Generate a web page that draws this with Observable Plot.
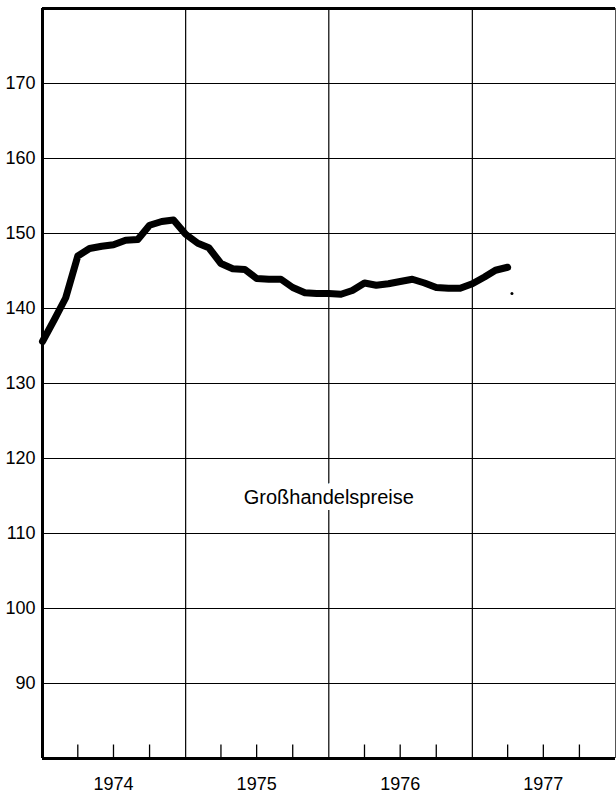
<!DOCTYPE html>
<html>
<head>
<meta charset="utf-8">
<script src="https://cdn.jsdelivr.net/npm/d3@7"></script>
<script src="https://cdn.jsdelivr.net/npm/@observablehq/plot@0.6"></script>
<style>
  html, body { margin: 0; padding: 0; background: #fff; }
  svg { display: block; }
</style>
</head>
<body>
<div id="chart"></div>
<script>
// Monthly values (Großhandelspreise index), Jan 1974 – Apr 1977
const months = [
  "1974-01","1974-02","1974-03","1974-04","1974-05","1974-06","1974-07","1974-08","1974-09","1974-10","1974-11","1974-12",
  "1975-01","1975-02","1975-03","1975-04","1975-05","1975-06","1975-07","1975-08","1975-09","1975-10","1975-11","1975-12",
  "1976-01","1976-02","1976-03","1976-04","1976-05","1976-06","1976-07","1976-08","1976-09","1976-10","1976-11","1976-12",
  "1977-01","1977-02","1977-03","1977-04"
];
const values = [
  135.6, 138.6, 141.4, 147.0, 148.0, 148.3, 148.5, 149.1, 149.2, 151.1, 151.6, 151.8,
  149.9, 148.7, 148.1, 146.0, 145.3, 145.2, 144.0, 143.9, 143.9, 142.8, 142.1, 142.0,
  142.0, 141.9, 142.4, 143.4, 143.1, 143.3, 143.6, 143.9, 143.4, 142.8, 142.7, 142.7,
  143.3, 144.2, 145.1, 145.5
];
const yearLabels = ["1974", "1975", "1976", "1977"];
const yTicks = [90, 100, 110, 120, 130, 140, 150, 160, 170];
const yearBounds = ["1975", "1976", "1977"];
const quarterTicks = [
  "1974-04","1974-07","1974-10","1975-04","1975-07","1975-10",
  "1976-04","1976-07","1976-10","1977-04","1977-07","1977-10"
];
const seriesLabel = "Großhandelspreise";
const strayMark = [{date: "1977-04-12", value: 142.0}];

const parse = d3.utcParse("%Y-%m");
const data = months.map((m, i) => ({date: parse(m), value: values[i]}));
const yearRows = yearLabels.map(y => ({date: new Date(Date.UTC(+y, 6, 1)), label: y}));
const x0 = new Date(Date.UTC(1974, 0, 1));

const chart = Plot.plot({
  width: 616,
  height: 799,
  marginLeft: 42,
  marginRight: 1,
  marginTop: 8,
  marginBottom: 41,
  style: {fontFamily: "'Liberation Sans', Arial, sans-serif", background: "#fff", color: "#000"},
  x: {type: "utc", domain: [x0, new Date(Date.UTC(1978, 0, 1))], axis: null},
  y: {domain: [80, 180], axis: null},
  marks: [
    Plot.ruleY(yTicks, {stroke: "#000", strokeWidth: 1.2}),
    Plot.ruleX(yearBounds.map(y => new Date(Date.UTC(+y, 0, 1))), {stroke: "#000", strokeWidth: 1.2}),
    Plot.ruleX([new Date(Date.UTC(1978, 0, 1))], {stroke: "#555", strokeWidth: 1}),
    Plot.ruleX(quarterTicks.map(parse), {y1: 80, y2: 81.8, stroke: "#000", strokeWidth: 1.3}),
    Plot.ruleX([x0], {stroke: "#000", strokeWidth: 3}),
    Plot.ruleY([80], {stroke: "#000", strokeWidth: 3}),
    Plot.ruleY([180], {stroke: "#000", strokeWidth: 3}),
    Plot.line(data, {x: "date", y: "value", stroke: "#000", strokeWidth: 7, strokeLinejoin: "round", strokeLinecap: "round"}),
    Plot.dot(strayMark, {x: d => new Date(d.date), y: "value", r: 1.5, fill: "#000"}),
    Plot.text([seriesLabel], {
      x: new Date(Date.UTC(1976, 0, 1)), y: 114.8,
      text: d => d, fontSize: 20, fill: "#000",
      stroke: "#fff", strokeWidth: 12, textAnchor: "middle"
    }),
    Plot.text(yTicks, {x: x0, y: d => d, text: d => String(d), dx: -7, textAnchor: "end", fontSize: 18, fill: "#000"}),
    Plot.text(yearRows, {x: "date", y: 80, text: "label", dy: 26, fontSize: 18, fill: "#000"})
  ]
});
document.getElementById("chart").appendChild(chart);
</script>
</body>
</html>
